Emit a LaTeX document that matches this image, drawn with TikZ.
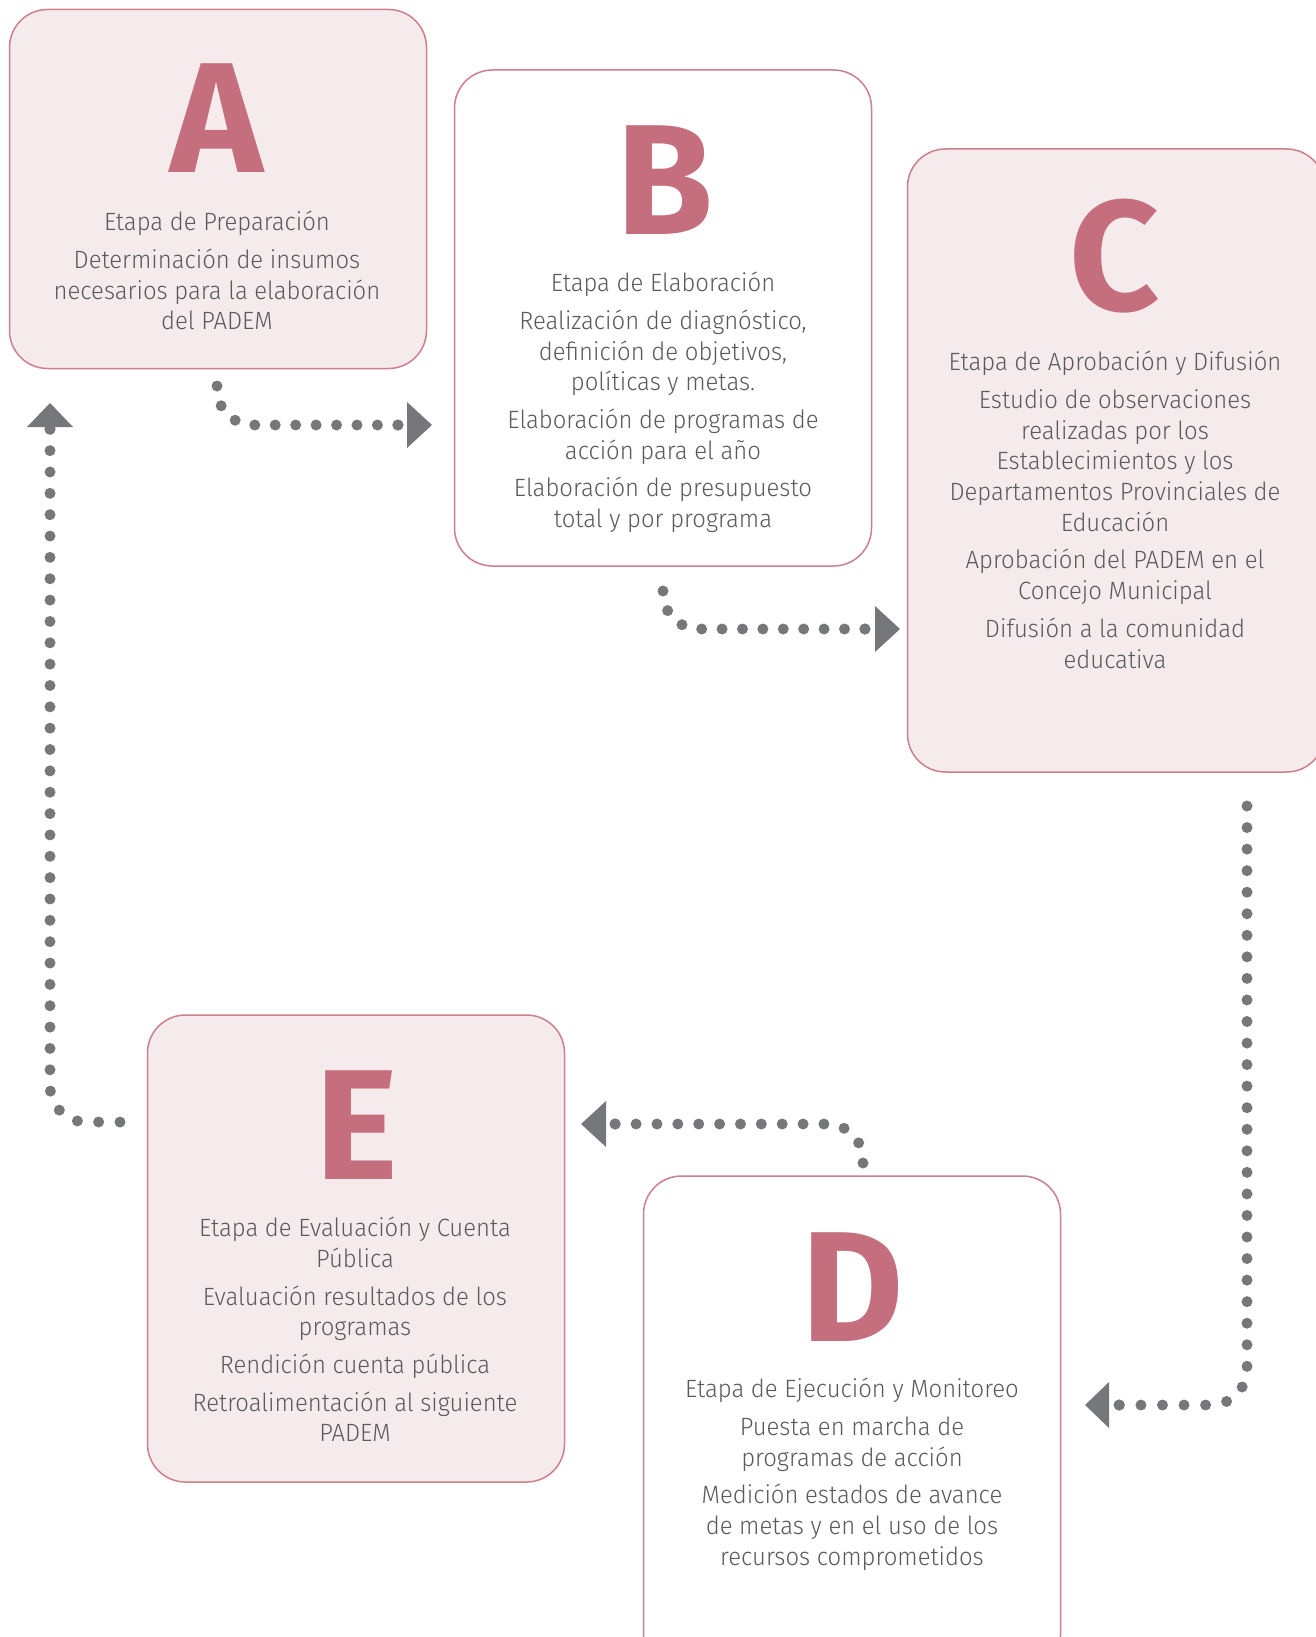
\documentclass[tikz,border=0pt]{standalone}
\usepackage{fontspec}
\setmainfont{Fira Sans Light}[FakeStretch=0.955]
\newfontfamily\letterfont{Fira Sans}
\definecolor{rose}{HTML}{C46E7E}
\definecolor{roseline}{HTML}{CD7F8C}
\definecolor{blush}{HTML}{F5EBED}
\definecolor{ink}{HTML}{5A5A5E}
\definecolor{dotgray}{HTML}{76777B}
\tikzset{
  stage/.style={draw=roseline, line width=1.5pt, rounded corners=38pt,
    minimum width=417pt, inner sep=0pt},
  filledstage/.style={stage, fill=blush},
  plainstage/.style={stage, fill=white},
  bigletter/.style={font=\letterfont\bfseries\fontsize{157}{157}\selectfont,
    text=rose, inner sep=0pt, anchor=base},
  bodytext/.style={font=\fontsize{25}{30.7}\selectfont, text=ink,
    align=center, inner sep=0pt, anchor=north},
  dots/.style={dotgray, line width=11pt, line cap=round,
    dash pattern=on 0pt off #1, rounded corners=36pt},
  enddot/.style={fill=dotgray},
  tiphead/.style={fill=dotgray},
}
\begin{document}
\begin{tikzpicture}[x=1pt,y=-1pt]
\useasboundingbox (0,0) rectangle (1316,1637);
\clip (0,0) rectangle (1316,1637);

% stage boxes
\node[filledstage, minimum height=359pt] (A) at (218,189) {};
\node[plainstage, minimum height=496pt] (B) at (663,318) {};
\node[filledstage, minimum height=623pt] (C) at (1116,460.5) {};
\node[plainstage, minimum height=496pt] (D) at (852,1424) {};
\node[filledstage, minimum height=467pt] (E) at (356,1248.5) {};

% big letters
\node[bigletter] (Aletter) at (217,173) {A};
\node[bigletter] (Bletter) at (665,235) {B};
\node[bigletter] (Cletter) at (1115,310) {C};
\node[bigletter] (Dletter) at (853,1341) {D};
\node[bigletter] (Eletter) at (357,1179) {E};

% descriptions
\node[bodytext] (Atext) at (217,211) {Etapa de Preparación\\[7pt]
  Determinación de insumos\\necesarios para la elaboración\\del PADEM};
\node[bodytext] (Btext) at (663,272) {Etapa de Elaboración\\[7pt]
  Realización de diagnóstico,\\definición de objetivos,\\políticas y metas.\\[7pt]
  Elaboración de programas de\\acción para el año\\[7pt]
  Elaboración de presupuesto\\total y por programa};
\node[bodytext] (Ctext) at (1115,351) {Etapa de Aprobación y Difusión\\[7pt]
  Estudio de observaciones\\realizadas por los\\Establecimientos y los\\Departamentos Provinciales de\\Educación\\[7pt]
  Aprobación del PADEM en el\\Concejo Municipal\\[7pt]
  Difusión a la comunidad\\educativa};
\node[bodytext] (Dtext) at (852,1378) {Etapa de Ejecución y Monitoreo\\[7pt]
  Puesta en marcha de\\programas de acción\\[7pt]
  Medición estados de avance\\de metas y en el uso de los\\recursos comprometidos};
\node[bodytext] (Etext) at (355,1217) {Etapa de Evaluación y Cuenta\\Pública\\[7pt]
  Evaluación resultados de los\\programas\\[7pt]
  Rendición cuenta pública\\[7pt]
  Retroalimentación al siguiente\\PADEM};

% connector end points
\coordinate (ab0) at (217,386);  \coordinate (ab1) at (398,425);  \coordinate (abtip) at (432,425);
\coordinate (bc0) at (663,591);  \coordinate (bc1) at (865,629);  \coordinate (bctip) at (900,629);
\coordinate (cd0) at (1247,806); \coordinate (cd1) at (1119,1405); \coordinate (cdtip) at (1085,1405);
\coordinate (de0) at (863,1163); \coordinate (de1) at (615,1124); \coordinate (detip) at (581,1124);
\coordinate (ea0) at (120,1122); \coordinate (ea1) at (50,429);   \coordinate (eatip) at (50,403);

% dotted connectors, spacing chosen so a dot falls on each end
\draw[dots=20.44pt] (ab0) |- (ab1);
\draw[dots=20.40pt] (bc0) |- (bc1);
\draw[dots=21.55pt] (cd0) |- (cd1);
\draw[dots=20.87pt] (de0) |- (de1);
\draw[dots=21.35pt] (ea0) -| (ea1);
\foreach \e in {ab1,bc1,cd1,de1,ea1} \fill[enddot] (\e) circle (5.5pt);

% triangular heads
\fill[tiphead] (abtip) -- ++(-25,-23) -- ++(0,46) -- cycle;
\fill[tiphead] (bctip) -- ++(-25,-23) -- ++(0,46) -- cycle;
\fill[tiphead] (cdtip) -- ++(24,-23) -- ++(0,46) -- cycle;
\fill[tiphead] (detip) -- ++(25,-23) -- ++(0,46) -- cycle;
\fill[tiphead] (eatip) -- ++(-23,24) -- ++(46,0) -- cycle;
\end{tikzpicture}
\end{document}
